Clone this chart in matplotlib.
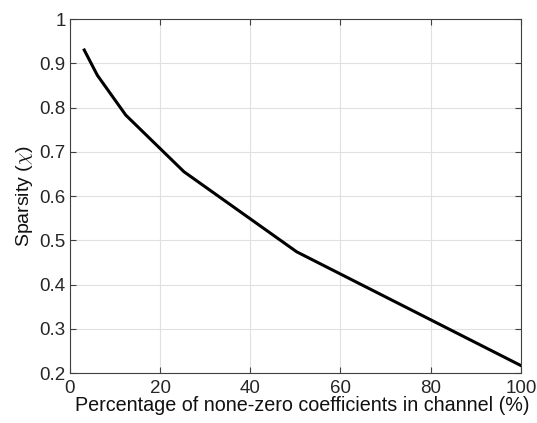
import matplotlib
matplotlib.use("Agg")
import matplotlib.pyplot as plt

x_pct = [3.2, 6.1, 12.4, 25.3, 50.3, 100]
sparsity = [0.930, 0.873, 0.783, 0.655, 0.474, 0.217]
x_ticks = [0, 20, 40, 60, 80, 100]
y_ticks = [0.2, 0.3, 0.4, 0.5, 0.6, 0.7, 0.8, 0.9, 1.0]
y_tick_labels = ["0.2", "0.3", "0.4", "0.5", "0.6", "0.7", "0.8", "0.9", "1"]

plt.rcParams['font.family'] = ['Liberation Sans', 'DejaVu Sans']
plt.rcParams['mathtext.fontset'] = 'cm'

fig = plt.figure(figsize=(5.37, 4.23), dpi=100)
ax = fig.add_axes([0.130, 0.118, 0.840, 0.837])
ax.plot(x_pct, sparsity, color='black', lw=2.2, solid_joinstyle='miter', zorder=3)
ax.set_xlim(0, 100)
ax.set_ylim(0.2, 1.0)
ax.set_xticks(x_ticks)
ax.set_yticks(y_ticks)
ax.set_yticklabels(y_tick_labels)
ax.grid(True, color='#e0e0e0', lw=0.8)
ax.set_axisbelow(True)
ax.tick_params(direction='in', top=True, right=True, length=4, width=0.8,
               color='#404040', labelsize=13.5, labelcolor='#262626', pad=3)
ax.tick_params(axis='x', pad=5)
for s in ax.spines.values():
    s.set_color('#404040')
    s.set_linewidth(0.8)
ax.set_xlabel('Percentage of none-zero coefficients in channel (%)', fontsize=14.2,
              color='#111111', labelpad=-1)
ax.xaxis.label.set_x(0.516)
ax.set_ylabel(r'Sparsity ($\chi$)', fontsize=14, color='#111111', labelpad=3)
fig.savefig('out.png', dpi=100)
